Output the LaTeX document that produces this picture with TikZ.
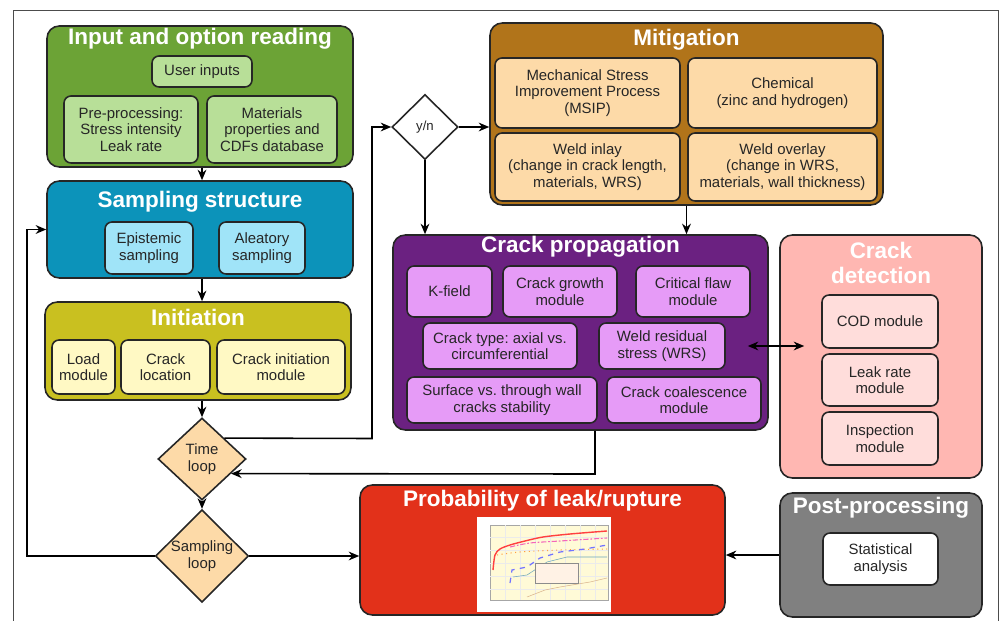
\documentclass[tikz,border=0pt]{standalone}
\usepackage{fontspec}
\setmainfont{Liberation Sans}
\usepackage{xcolor}
\definecolor{grnout}{RGB}{108,163,54}
\definecolor{grnin}{RGB}{184,223,152}
\definecolor{bluout}{RGB}{12,147,186}
\definecolor{bluin}{RGB}{160,228,248}
\definecolor{olvout}{RGB}{201,192,32}
\definecolor{olvin}{RGB}{255,249,196}
\definecolor{brnout}{RGB}{177,116,26}
\definecolor{peach}{RGB}{253,218,168}
\definecolor{prpout}{RGB}{107,33,129}
\definecolor{prpin}{RGB}{230,155,247}
\definecolor{pnkout}{RGB}{255,183,178}
\definecolor{pnkin}{RGB}{255,221,219}
\definecolor{redout}{RGB}{226,49,26}
\definecolor{gryout}{RGB}{128,128,128}
\definecolor{plotbg}{RGB}{255,250,215}
\usepackage{tikz}
\usetikzlibrary{arrows.meta,positioning,shapes.geometric,calc}
\frenchspacing

\begin{document}
\begin{tikzpicture}[x=0.02cm, y=-0.02cm,
    sz/.style 2 args={minimum width=#1*0.02cm, minimum height=#2*0.02cm},
    outer/.style={draw=black!85, line width=0.9pt, rounded corners=7pt, inner sep=0pt},
    inner/.style={draw=black!85, line width=0.9pt, rounded corners=4pt, inner sep=1pt,
        align=center, text=black!85, font=\fontsize{8.5}{9.4}\selectfont},
    ttl/.style={text=white, inner sep=0pt, anchor=base, font=\fontsize{12.8}{14.5}\selectfont\bfseries},
    loopbox/.style={diamond, draw=black!85, line width=0.9pt, inner sep=0pt, align=center,
        fill=peach, text=black!85, font=\fontsize{8.5}{9.4}\selectfont},
    flow/.style={-{Stealth[length=6pt,width=5pt]}, line width=0.9pt}]
    \useasboundingbox (0,0) rectangle (1000,621);

    % Page frame
    \draw[black!70, line width=0.5pt] (13,621) -- (13,10) -- (998,10) -- (998,621);

    % Input and option reading
    \node[outer, fill=grnout, sz={306}{141}] (inp) at (200,96.5) {};
    \node[ttl] (inpT) at (200,45) {Input and option reading};
    \node[inner, fill=grnin, sz={100}{31}] (user) at (202,71.5) {User inputs};
    \node[inner, fill=grnin, sz={134}{67}] (pre) at (131,129.5) {Pre-processing:\\Stress intensity\\Leak rate};
    \node[inner, fill=grnin, sz={130}{67}] (mat) at (272,129.5) {Materials\\properties and\\CDFs database};

    % Sampling structure
    \node[outer, fill=bluout, sz={306}{97}] (samp) at (200,229.5) {};
    \node[ttl] (sampT) at (200,208) {Sampling structure};
    \node[inner, fill=bluin, sz={88}{52}] (epi) at (149,248) {Epistemic\\sampling};
    \node[inner, fill=bluin, sz={86}{52}] (ale) at (262,248) {Aleatory\\sampling};

    % Initiation
    \node[outer, fill=olvout, sz={306}{98}] (init) at (198,351) {};
    \node[ttl] (initT) at (198,325) {Initiation};
    \node[inner, fill=olvin, sz={63}{54}] (load) at (83.5,367) {Load\\module};
    \node[inner, fill=olvin, sz={89}{54}] (loc) at (165.5,367) {Crack\\location};
    \node[inner, fill=olvin, sz={128}{54}] (cim) at (281,367) {Crack initiation\\module};

    % Loops
    \node[loopbox, sz={88}{82}] (tl) at (202,459) {Time\\loop};
    \node[loopbox, sz={93}{92}] (sl) at (202,556) {Sampling\\loop};
    \node[diamond, draw=black!85, line width=0.9pt, fill=white, inner sep=0pt, sz={66}{65},
        text=black!85, font=\fontsize{7.5}{9}\selectfont] (yn) at (425,127) {y/n};

    % Mitigation
    \node[outer, fill=brnout, sz={393}{182}] (mit) at (686.5,114) {};
    \node[ttl] (mitT) at (686.5,46) {Mitigation};
    \node[inner, fill=peach, sz={185}{70}] (msip) at (587.5,93) {Mechanical Stress\\Improvement Process\\(MSIP)};
    \node[inner, fill=peach, sz={189}{70}] (chem) at (782.5,93) {Chemical\\(zinc and hydrogen)};
    \node[inner, fill=peach, sz={185}{68}] (inlay) at (587.5,167) {Weld inlay\\(change in crack length,\\materials, WRS)};
    \node[inner, fill=peach, sz={189}{68}] (overlay) at (782.5,167) {Weld overlay\\(change in WRS,\\materials, wall thickness)};

    % Crack propagation
    \node[outer, fill=prpout, sz={375}{195}] (prop) at (580.5,332.5) {};
    \node[ttl] (propT) at (580.5,253) {Crack propagation};
    \node[inner, fill=prpin, sz={85}{51}] (kf) at (449.5,291.5) {K-field};
    \node[inner, fill=prpin, sz={114}{51}] (cg) at (560,291.5) {Crack growth\\module};
    \node[inner, fill=prpin, sz={114}{51}] (cf) at (693,291.5) {Critical flaw\\module};
    \node[inner, fill=prpin, sz={154}{46}] (ctype) at (500,346) {Crack type: axial vs.\\circumferential};
    \node[inner, fill=prpin, sz={126}{46}] (wrs) at (662,346) {Weld residual\\stress (WRS)};
    \node[inner, fill=prpin, sz={190}{46}] (surf) at (502,400) {Surface vs. through wall\\cracks stability};
    \node[inner, fill=prpin, sz={154}{46}] (coal) at (684,400) {Crack coalescence\\module};

    % Crack detection
    \node[outer, fill=pnkout, sz={202}{243}] (det) at (881,356.5) {};
    \node[ttl, anchor=north, align=center, font=\fontsize{12.8}{14.2}\selectfont\bfseries] (detT) at (881,242) {Crack\\detection};
    \node[inner, fill=pnkin, sz={116}{53}] (cod) at (880,321.5) {COD module};
    \node[inner, fill=pnkin, sz={116}{52}] (leak) at (880,380) {Leak rate\\module};
    \node[inner, fill=pnkin, sz={116}{53}] (insp) at (880,438.5) {Inspection\\module};

    % Probability of leak/rupture
    \node[outer, fill=redout, sz={365}{130}] (prob) at (542.5,550) {};
    \node[ttl] (probT) at (542.5,506) {Probability of leak/rupture};
    \fill[white] (477,517) rectangle (611,612);
    \fill[plotbg] (490,525) rectangle (608,600);
    \draw[black!35, line width=0.2pt] (490,525) rectangle (608,600);
    \foreach \gx in {505,520,...,600} \draw[black!8, line width=0.15pt] (\gx,525) -- (\gx,600);
    \foreach \gy in {537,550,...,600} \draw[black!8, line width=0.15pt] (490,\gy) -- (608,\gy);
    \draw[red!75, line width=0.8pt] plot[smooth, tension=0.5] coordinates {(493,570) (495,555) (500,549) (510,545) (525,541) (543,537) (570,534) (607,531)};
    \draw[magenta!60, line width=0.6pt, dash pattern=on 3pt off 1pt on 1pt off 1pt] plot[smooth] coordinates {(510,547) (530,543) (560,541) (607,538)};
    \draw[orange!75, line width=0.6pt, dotted] plot[smooth] coordinates {(497,555) (520,552) (560,550) (607,549)};
    \draw[blue!55, line width=0.7pt, dashed] (510,583) -- (512,570) -- (527,567) -- (540,558) -- (560,552) -- (585,549) -- (607,545);
    \draw[cyan!45!gray, line width=0.3pt] (513,577) -- (527,575) -- (547,562) -- (567,557) -- (607,557);
    \draw[brown!60, line width=0.3pt] (527,597) -- (545,590) -- (560,587) -- (590,582) -- (607,578);
    \draw[black!45, fill=orange!10, line width=0.2pt] (535,563) rectangle (578,583);

    % Post-processing
    \node[outer, fill=gryout, sz={202}{124}] (post) at (881,555) {};
    \node[ttl] (postT) at (881,513) {Post-processing};
    \node[inner, fill=white, sz={115}{52}] (stat) at (880.5,559) {Statistical\\analysis};

    % Main flow
    \draw[flow] (inp.south -| tl) -- (tl |- samp.north);
    \draw[flow] (samp.south -| tl) -- (tl |- init.north);
    \draw[flow] (tl |- init.south) -- (tl.north);
    \draw[flow] (tl.south) -- (sl.north);
    \coordinate (loopL) at (27,556);
    \draw[flow] (sl.west) -- (loopL) |- (samp.west);
    \draw[flow] (sl.east) -- (sl.east -| prob.west);

    % Time loop to mitigation decision
    \coordinate (tlR) at (372,438.5);
    \draw[flow] (tl.north east) -- (tlR) |- (yn.west);
    \draw[flow] (yn.east) -- (yn.east -| mit.west);
    \draw[flow] (yn.south) -- (yn.south |- prop.north);
    \draw[flow] (mit.south) -- (mit.south |- prop.north);

    % Back to time loop
    \coordinate (pb) at (595,474);
    \draw[flow] (pb |- prop.south) -- (pb) -- ($(tl.east)!0.35!(tl.south)$);

    % Detection and post-processing links
    \draw[{Stealth[length=6pt,width=5pt]}-{Stealth[length=6pt,width=5pt]}, line width=0.9pt]
        ([xshift=0.44cm]wrs.east) -- ([xshift=0.5cm]wrs.east -| det.west);
    \draw[flow] (post.west) -- (post.west -| prob.east);
\end{tikzpicture}
\end{document}
